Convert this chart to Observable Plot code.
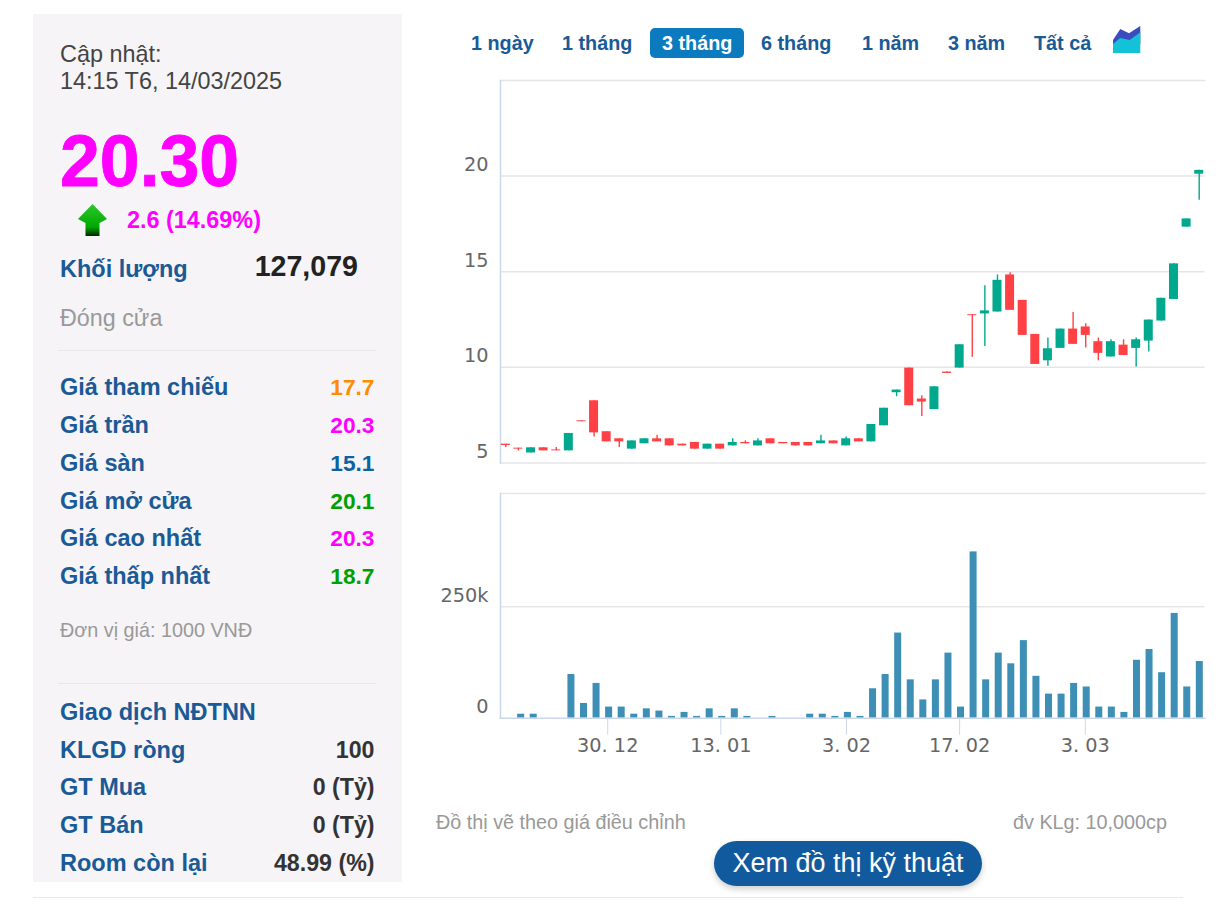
<!DOCTYPE html>
<html lang="vi">
<head>
<meta charset="utf-8">
<script src="https://cdn.jsdelivr.net/npm/d3@7"></script>
<script src="https://cdn.jsdelivr.net/npm/@observablehq/plot@0.6"></script>
<style>
html,body{margin:0;padding:0;background:#fff;overflow:hidden}
body{width:1226px;height:910px;position:relative;font-family:"Liberation Sans",Arial,sans-serif}
.abs{position:absolute;white-space:nowrap;line-height:1}
.panel{position:absolute;left:33px;top:14px;width:369px;height:868px;background:#f6f4f6}
.lbl{font-weight:bold;color:#1a5a96;font-size:23.5px}
.val{font-weight:bold;font-size:22.7px;right:851.5px}
.sep{position:absolute;left:58px;width:318px;height:1px;background:#e9e7e9}
.tab{font-weight:bold;color:#1a5a96;font-size:19.8px}
#candle,#volume{position:absolute;left:440px}
#candle{top:70px}#volume{top:483px}
svg text{font-family:"DejaVu Sans",Verdana,sans-serif}
</style>
</head>
<body>
<div class="panel"></div>
<div class="abs" style="left:60px;top:43px;font-size:23.4px;color:#444">Cập nhật:</div>
<div class="abs" style="left:60px;top:70px;font-size:23.4px;color:#444">14:15 T6, 14/03/2025</div>
<div class="abs" style="left:60px;top:126px;font-size:71.6px;font-weight:bold;color:#f0f;-webkit-text-stroke:.8px #f0f">20.30</div>
<svg style="position:absolute;left:78px;top:204px" width="30" height="32" viewBox="0 0 30 32">
<defs><linearGradient id="ar" x1="0" y1="0" x2="0" y2="1"><stop offset="0" stop-color="#2cc82c"/><stop offset=".72" stop-color="#00a800"/><stop offset="1" stop-color="#002a00"/></linearGradient></defs>
<polygon points="14.500,0 29,15 21.500,19 21.500,32 7.500,32 7.500,19 0,15" fill="url(#ar)"/></svg>
<div class="abs" style="left:127px;top:209px;font-size:23.4px;font-weight:bold;color:#f0f">2.6 (14.69%)</div>
<div class="abs lbl" style="left:60px;top:258px">Khối lượng</div>
<div class="abs" style="right:868px;top:252px;font-size:28.6px;font-weight:bold;color:#222">127,079</div>
<div class="abs" style="left:60px;top:307px;font-size:23.3px;color:#999">Đóng cửa</div>
<div class="sep" style="top:350px"></div>
<div id="rows"></div>
<div class="abs" style="left:60px;top:621px;font-size:19.8px;color:#999">Đơn vị giá: 1000 VNĐ</div>
<div class="sep" style="top:683px"></div>

<div id="tabs"></div>
<svg style="position:absolute;left:1113px;top:26px" width="28" height="27" viewBox="0 0 28 27">
<polygon points="0,14 7.300,3 16,7.300 27.300,0 27.300,18 0,20" fill="#3b4cc0"/>
<polygon points="0,18 7.300,12 16.700,14 27.300,6.300 27.300,27 0,27" fill="#14c2d8"/></svg>

<div id="candle"></div>
<div id="volume"></div>

<div class="abs" style="left:436px;top:813px;font-size:19.8px;color:#999">Đồ thị vẽ theo giá điều chỉnh</div>
<div class="abs" style="left:1013px;top:813px;font-size:19.8px;color:#999">đv KLg: 10,000cp</div>
<div class="abs" style="left:714px;top:841px;width:268px;height:45px;line-height:45px;border-radius:23px;background:#125a9e;color:#fff;font-size:27px;text-align:center;box-shadow:0 3px 6px rgba(0,0,0,.2)">Xem đồ thị kỹ thuật</div>
<div style="position:absolute;left:33px;top:897px;width:1150px;height:1px;background:#e9e9e9"></div>

<script>
// ---- data ----
const sessions = ["2024-12-18","2024-12-19","2024-12-20","2024-12-23","2024-12-24","2024-12-25","2024-12-26","2024-12-27","2024-12-30","2024-12-31","2025-01-02","2025-01-03","2025-01-06","2025-01-07","2025-01-08","2025-01-09","2025-01-10","2025-01-13","2025-01-14","2025-01-15","2025-01-16","2025-01-17","2025-01-20","2025-01-21","2025-01-22","2025-01-23","2025-01-24","2025-02-03","2025-02-04","2025-02-05","2025-02-06","2025-02-07","2025-02-10","2025-02-11","2025-02-12","2025-02-13","2025-02-17","2025-02-18","2025-02-19","2025-02-20","2025-02-21","2025-02-24","2025-02-25","2025-02-26","2025-02-27","2025-02-28","2025-03-03","2025-03-04","2025-03-05","2025-03-06","2025-03-07","2025-03-10","2025-03-11","2025-03-12","2025-03-13","2025-03-14"];
const opens  = [5.98,5.77,5.52,5.79,5.68,5.63,7.20,8.25,6.63,6.26,5.72,6.00,6.26,6.26,5.98,6.07,5.72,5.98,5.89,6.07,5.89,6.26,6.07,6.07,6.07,6.00,6.15,5.89,6.26,6.10,6.94,8.67,9.96,8.34,7.79,9.75,9.96,12.75,12.79,12.89,14.83,13.50,11.72,10.34,10.99,12.00,12.11,11.34,10.54,11.16,10.99,11.37,12.42,13.55,17.33,20.10];
const closes = [5.91,5.72,5.79,5.63,5.63,6.54,7.15,6.57,6.10,6.10,6.15,6.26,6.10,5.89,5.89,5.72,5.98,5.72,6.07,6.00,6.15,6.00,6.00,5.89,5.89,6.15,6.00,6.26,6.10,7.01,7.86,8.81,7.99,8.18,8.98,9.68,11.18,12.70,12.95,14.55,12.98,11.67,10.15,10.97,12.00,11.20,11.67,10.73,11.34,10.62,11.44,12.47,13.61,15.41,17.76,20.30];
const highs  = [5.98,5.77,5.79,5.79,5.80,6.54,7.20,8.25,6.63,6.26,6.15,6.26,6.45,6.26,5.98,6.07,5.98,5.98,6.26,6.15,6.26,6.26,6.07,6.07,6.07,6.45,6.15,6.35,6.26,7.01,7.86,8.81,9.96,8.51,8.98,9.75,11.18,12.75,14.27,14.83,14.94,13.50,11.72,11.53,12.00,12.86,12.28,11.53,11.44,11.44,11.53,12.47,13.61,15.41,17.76,20.30];
const lows   = [5.80,5.63,5.52,5.63,5.63,5.63,7.15,6.36,6.10,5.80,5.72,6.00,6.10,5.89,5.89,5.72,5.72,5.72,5.89,6.00,5.89,6.00,6.00,5.89,5.89,6.00,6.00,5.89,6.10,6.10,6.94,8.46,7.99,7.43,7.79,9.68,9.96,10.52,11.09,12.89,12.98,11.67,10.15,10.06,10.99,11.20,11.01,10.34,10.54,10.62,10.01,10.80,12.42,13.55,17.33,18.74];
const volumes = [0,9000,9000,0,0,98000,33000,78000,25000,25000,9000,21000,16000,4000,13000,4000,21000,4000,21000,4000,0,4000,0,0,9000,9000,4000,13000,4000,66000,98000,191000,86000,41000,86000,146000,25000,373000,86000,146000,122000,174000,94000,54000,54000,78000,70000,25000,25000,13000,130000,154000,102000,235000,70000,127079];
const tickSessions = ["2024-12-30","2025-01-13","2025-02-03","2025-02-17","2025-03-03"];
const tickLabels = ["30. 12","13. 01","3. 02","17. 02","3. 03"];
const priceTicks = [5,10,15,20];
const volumeTicks = [0,250000];
const volumeLabels = ["0","250k"];
const tabs = ["1 ngày","1 tháng","3 tháng","6 tháng","1 năm","3 năm","Tất cả"];
const tabLefts = [471,562,662,761,862,948,1034];
const rowNames = ["Giá tham chiếu","Giá trần","Giá sàn","Giá mở cửa","Giá cao nhất","Giá thấp nhất"];
const rowValues = ["17.7","20.3","15.1","20.1","20.3","18.7"];
const rowColors = ["#ff8c00","#f0f","#0f62a0","#00a000","#f0f","#00a000"];
const rowTops = [376,414,452,490,527,565];
const foreignNames = ["Giao dịch NĐTNN","KLGD ròng","GT Mua","GT Bán","Room còn lại"];
const foreignValues = ["","100","0 (Tỷ)","0 (Tỷ)","48.99 (%)"];
const foreignTops = [701,739,776,814,852];

// ---- html side panels ----
document.getElementById("rows").innerHTML =
  rowNames.map((n,i)=>`<div class="abs lbl" style="left:60px;top:${rowTops[i]}px">${n}</div><div class="abs val" style="top:${rowTops[i]-0.5}px;color:${rowColors[i]}">${rowValues[i]}</div>`).join("") +
  foreignNames.map((n,i)=>`<div class="abs lbl" style="left:60px;top:${foreignTops[i]}px">${n}</div><div class="abs val" style="top:${foreignTops[i]}px;color:#333;font-size:23.2px">${foreignValues[i]}</div>`).join("");
document.getElementById("tabs").innerHTML =
  `<div style="position:absolute;left:650px;top:28px;width:94px;height:30px;border-radius:5px;background:#0b7abf"></div>` +
  tabs.map((t,i)=>`<div class="abs tab" style="left:${tabLefts[i]}px;top:34px;${i===2?"color:#fff":""}">${t}</div>`).join("");

// ---- candlesticks ----
const candles = sessions.map((date,i)=>({date,open:opens[i],close:closes[i],high:highs[i],low:lows[i],
  dir: closes[i]>=opens[i] ? "up":"down"}));
const gridColor = "#e6e6e6", axisColor = "#ccd6eb", labelColor = "#666";

document.getElementById("candle").append(Plot.plot({
  width:766, height:400, marginLeft:60, marginRight:1.5, marginTop:10, marginBottom:7.6,
  style:{background:"transparent",overflow:"visible"},
  x:{type:"band", domain:sessions, range:[59,765], paddingInner:0.286, paddingOuter:0.143, axis:null},
  y:{domain:[5,25], axis:null},
  color:{domain:["up","down"], range:["#00a98e","#ff4045"]},
  marks:[
    Plot.ruleY(priceTicks.slice(1),{stroke:gridColor,strokeWidth:1.5}),
    Plot.frame({anchor:"top",stroke:gridColor,strokeWidth:1.5}),
    Plot.frame({anchor:"bottom",stroke:gridColor,strokeWidth:1.5}),
    Plot.frame({anchor:"left",stroke:axisColor,strokeWidth:1.5}),
    Plot.axisY({ticks:priceTicks,tickSize:0,tickPadding:12,dy:-11,fontSize:19.3,color:labelColor,label:null}),
    Plot.ruleX(candles,{x:"date",y1:"low",y2:"high",stroke:"dir",strokeWidth:1.4}),
    Plot.barY(candles,{x:"date",y1:"open",y2:"close",fill:"dir"})
  ]
}));

// ---- volume ----
const bars = sessions.map((date,i)=>({date,volume:volumes[i]})).filter(d=>d.volume>0);
document.getElementById("volume").append(Plot.plot({
  width:766, height:277, marginLeft:60, marginRight:1.5, marginTop:10, marginBottom:42.3,
  style:{background:"transparent",overflow:"visible"},
  x:{type:"band", domain:sessions, range:[61.8,765.6], paddingInner:0.443, paddingOuter:0.2215, axis:null},
  y:{domain:[0,504000], axis:null},
  marks:[
    Plot.ruleY([250000],{stroke:gridColor,strokeWidth:1.5}),
    Plot.frame({anchor:"top",stroke:gridColor,strokeWidth:1.5}),
    Plot.frame({anchor:"left",stroke:axisColor,strokeWidth:1.5}),
    Plot.axisY({ticks:volumeTicks,tickFormat:v=>volumeLabels[volumeTicks.indexOf(v)],tickSize:0,tickPadding:12,dy:-11,fontSize:19.3,color:labelColor,label:null}),
    Plot.barY(bars,{x:"date",y:"volume",fill:"#3d8fb5"}),
    Plot.frame({anchor:"bottom",stroke:axisColor,strokeWidth:1.5}),
    Plot.axisX({ticks:tickSessions,tickFormat:d=>tickLabels[tickSessions.indexOf(d)],tickSize:17,tickPadding:3,dx:-1.4,fontSize:19.3,stroke:axisColor,fill:labelColor,label:null})
  ]
}));
</script>
</body>
</html>
